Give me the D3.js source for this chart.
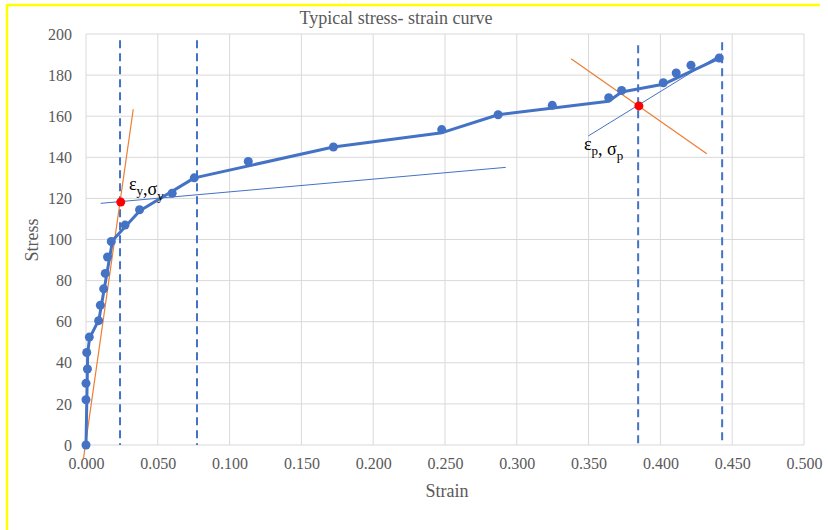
<!DOCTYPE html>
<html>
<head>
<meta charset="utf-8">
<script src="https://cdn.jsdelivr.net/npm/d3@7"></script>
<style>
  html, body { margin: 0; padding: 0; background: #fff; }
  svg { display: block; }
  text { font-family: "Liberation Serif", "Times New Roman", serif; }
</style>
</head>
<body>
<svg id="chart" width="828" height="530"></svg>
<script>
// Measured test points (strain, stress)
const pointStrain = [0, 0, 0, 0.001, 0.0005, 0.0023, 0.0088, 0.010, 0.0123, 0.0134, 0.015, 0.0176,
  0.0272, 0.0373, 0.060, 0.0754, 0.113, 0.1723, 0.2477, 0.287, 0.3247, 0.364, 0.373, 0.402, 0.411, 0.4213, 0.441];
const pointStress = [0, 22, 30, 37, 45, 52.5, 60.5, 68, 76, 83.5, 91.5, 99,
  107, 114.5, 122.5, 130, 138, 145, 153.5, 160.7, 165.3, 169, 172.5, 176.3, 181, 184.8, 188.3];

// Piecewise curve through the data
const curveStrain = [0, 0.0012, 0.0025, 0.009, 0.0185, 0.0375, 0.0755, 0.1723, 0.248, 0.287, 0.364, 0.373, 0.402, 0.441];
const curveStress = [0, 45, 52, 61, 99.5, 114, 130, 145, 152, 160.7, 167.3, 171.8, 175.5, 188.3];

// Yield and proportional points
const keyStrain = [0.0242, 0.385];
const keyStress = [118.2, 165];

// Construction lines: [x1, y1, x2, y2] in strain / stress
const elasticLine = [-0.0019, -7.3, 0.0329, 163.4];
const yieldLine = [0.0102, 117.6, 0.2923, 135.1];
const hardenLine = [0.3498, 150.4, 0.443, 190.5];
const neckLine = [0.3378, 188, 0.4323, 141.7];

// Dashed markers: strain positions and top stress
const dashStrain = [0.0237, 0.0773, 0.3845, 0.443];
const dashTop = [197, 197, 194.5, 196];

const xTicks = [0, 0.05, 0.1, 0.15, 0.2, 0.25, 0.3, 0.35, 0.4, 0.45, 0.5];
const yTicks = [0, 20, 40, 60, 80, 100, 120, 140, 160, 180, 200];

const blue = "#4472C4", orange = "#ED7D31", grid = "#d9d9d9", textGray = "#595959";

const svg = d3.select("#chart");
const x = d3.scaleLinear().domain([0, 0.5]).range([86, 804]);
const y = d3.scaleLinear().domain([0, 200]).range([445, 34]);

// Outer frame (top and left edges)
svg.append("line").attr("x1", 7).attr("x2", 820).attr("y1", 5).attr("y2", 5)
  .attr("stroke", "#ffff00").attr("stroke-width", 2.5);
svg.append("line").attr("x1", 7).attr("x2", 7).attr("y1", 4).attr("y2", 530)
  .attr("stroke", "#ffff00").attr("stroke-width", 2.5);

// Gridlines
svg.append("g").selectAll("line").data(yTicks).join("line")
  .attr("x1", x(0)).attr("x2", x(0.5))
  .attr("y1", d => y(d)).attr("y2", d => y(d))
  .attr("stroke", grid).attr("stroke-width", 1);
svg.append("g").selectAll("line").data(xTicks).join("line")
  .attr("x1", d => x(d)).attr("x2", d => x(d))
  .attr("y1", y(0)).attr("y2", y(200))
  .attr("stroke", grid).attr("stroke-width", 1);

// Axes
const xAxis = svg.append("g").attr("transform", `translate(0,${y(0)})`)
  .call(d3.axisBottom(x).tickValues(xTicks).tickFormat(d3.format(".3f")).tickSize(0).tickPadding(13));
const yAxis = svg.append("g").attr("transform", `translate(${x(0)},0)`)
  .call(d3.axisLeft(y).tickValues(yTicks).tickSize(0).tickPadding(14));
[xAxis, yAxis].forEach(g => {
  g.select(".domain").remove();
  g.selectAll("text").attr("fill", textGray)
    .style("font-family", "'Liberation Serif', serif").style("font-size", "16px");
});

// Titles
svg.append("text").attr("x", 396).attr("y", 24).attr("text-anchor", "middle")
  .attr("fill", textGray).style("font-size", "18px").text("Typical stress- strain curve");
svg.append("text").attr("x", 447).attr("y", 497).attr("text-anchor", "middle")
  .attr("fill", textGray).style("font-size", "18px").text("Strain");
svg.append("text").attr("transform", "translate(38,240) rotate(-90)").attr("text-anchor", "middle")
  .attr("fill", textGray).style("font-size", "18px").text("Stress");

// Dashed reference lines
svg.append("g").selectAll("line").data(dashStrain).join("line")
  .attr("x1", d => x(d)).attr("x2", d => x(d))
  .attr("y1", (d, i) => y(dashTop[i])).attr("y2", y(0))
  .attr("stroke", blue).attr("stroke-width", 2).attr("stroke-dasharray", "8,5");

// Construction lines
const thin = [
  { c: elasticLine, color: orange, w: 1.2 },
  { c: yieldLine, color: blue, w: 1 },
  { c: hardenLine, color: blue, w: 1 },
  { c: neckLine, color: orange, w: 1.2 }
];
svg.append("g").selectAll("line").data(thin).join("line")
  .attr("x1", d => x(d.c[0])).attr("y1", d => y(d.c[1]))
  .attr("x2", d => x(d.c[2])).attr("y2", d => y(d.c[3]))
  .attr("stroke", d => d.color).attr("stroke-width", d => d.w);

// Main curve
const curve = curveStrain.map((s, i) => [s, curveStress[i]]);
svg.append("path").datum(curve)
  .attr("d", d3.line().x(d => x(d[0])).y(d => y(d[1])))
  .attr("fill", "none").attr("stroke", blue).attr("stroke-width", 3)
  .attr("stroke-linejoin", "round");

// Data markers
const pts = pointStrain.map((s, i) => [s, pointStress[i]]);
svg.append("g").selectAll("circle").data(pts).join("circle")
  .attr("cx", d => x(d[0])).attr("cy", d => y(d[1])).attr("r", 4.5).attr("fill", blue);

// Key points
const keys = keyStrain.map((s, i) => [s, keyStress[i]]);
svg.append("g").selectAll("circle").data(keys).join("circle")
  .attr("cx", d => x(d[0])).attr("cy", d => y(d[1])).attr("r", 4.5).attr("fill", "#ff0000");

// Point labels
function greekLabel(px, py, parts) {
  const t = svg.append("text").attr("x", px).attr("y", py).attr("fill", "#000").style("font-size", "18px");
  parts.forEach(p => {
    if (p.sub) {
      t.append("tspan").attr("dy", 5).style("font-size", "13px").text(p.text);
      t.append("tspan").attr("dy", -5).text("");
    } else {
      t.append("tspan").text(p.text);
    }
  });
}
greekLabel(129, 190, [{ text: "ε" }, { text: "y", sub: true }, { text: ",σ" }, { text: "y", sub: true }]);
greekLabel(584, 150, [{ text: "ε" }, { text: "p", sub: true }, { text: ", σ" }, { text: "p", sub: true }]);
</script>
</body>
</html>
